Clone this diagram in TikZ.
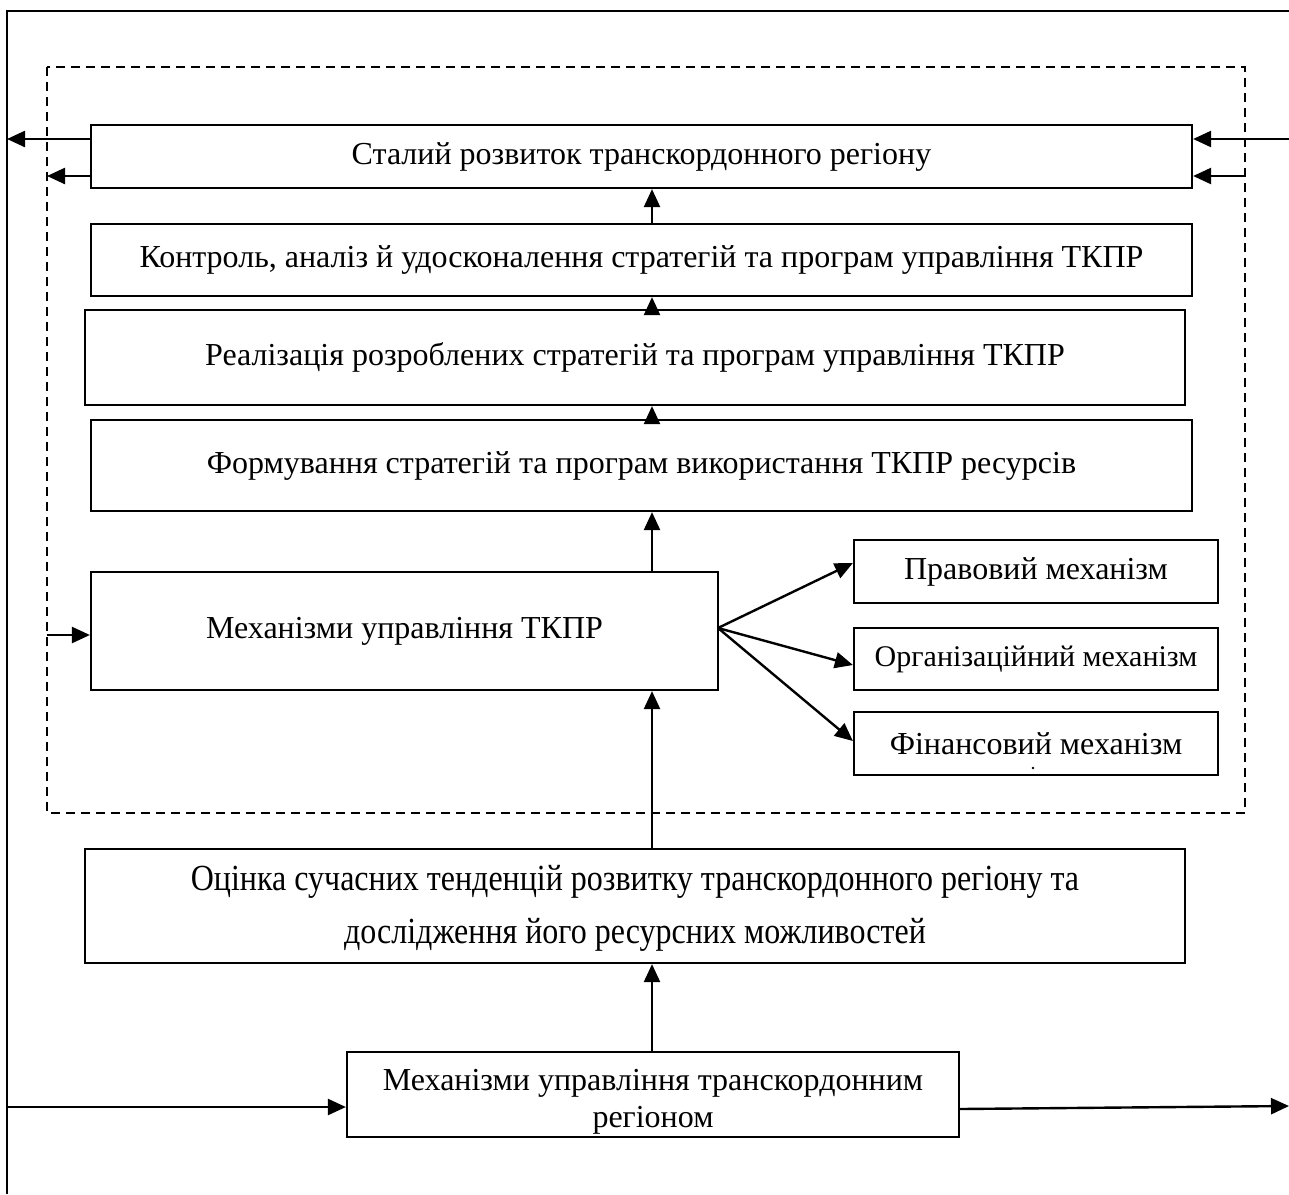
\documentclass[tikz,border=0pt]{standalone}
\usepackage{fontspec}
\setmainfont{Liberation Serif}
\usetikzlibrary{arrows.meta,calc}
\tikzset{
  box/.style={draw, line width=2.2pt, inner sep=0pt, align=center,
    font=\fontsize{32}{40}\selectfont},
  txt/.style={inner sep=0pt, align=center, font=\fontsize{32}{37}\selectfont},
  arr/.style={line width=2.4pt, -{Triangle[length=18pt,width=16pt]}},
  frame/.style={line width=2.4pt},
  zone/.style={line width=1.7pt, dash pattern=on 9pt off 6pt}
}
\newcommand{\tallline}[1]{\scalebox{1}[1.15]{#1}}
\begin{document}
\begin{tikzpicture}[x=1pt,y=-1pt]
\useasboundingbox (0,0) rectangle (1289,1194);
% outer frame (top and left sides)
\draw[frame] (7,1194) -- (7,11) -- (1289,11);
% dashed zone of management of transborder regional resources
\draw[zone] (47,67) rectangle (1245,813);

% stages
\node[box, minimum width=1101pt, minimum height=63pt] (b1) at (641.5,156.5)
  {Сталий розвиток транскордонного регіону};
\node[box, minimum width=1101pt, minimum height=72pt] (b2) at (641.5,260)
  {Контроль, аналіз й удосконалення стратегій та програм управління ТКПР};
\node[box, minimum width=1100pt, minimum height=95pt] (b3) at (635,357.5)
  {Реалізація розроблених стратегій та програм управління ТКПР};
\node[box, minimum width=1101pt, minimum height=91pt] (b4) at (641.5,465.5)
  {Формування стратегій та програм використання ТКПР ресурсів};
\node[box, minimum width=627pt, minimum height=118pt] (b5) at (404.5,631)
  {Механізми управління ТКПР};
\node[box, minimum width=364pt, minimum height=63pt] (b6) at (1036,571.5)
  {Правовий механізм};
\node[box, minimum width=364pt, minimum height=62pt,
  font=\fontsize{30}{36}\selectfont] (b7) at (1036,659)
  {Організаційний механізм};
\node[box, minimum width=364pt, minimum height=63pt] (b8) at (1036,743.5)
  {Фінансовий механізм};
\fill (1033,768) circle (1.3pt);
\node[box, minimum width=1100pt, minimum height=114pt] (b9) at (635,906) {};
\node[txt, font=\fontsize{32}{53}\selectfont] (b9t) at ($(b9)+(0,2)$)
  {\tallline{Оцінка сучасних тенденцій розвитку транскордонного регіону та}\\
   \tallline{дослідження його ресурсних можливостей}};
\node[box, minimum width=612pt, minimum height=85pt] (b10) at (653,1094.5) {};
\node[txt] (b10t) at ($(b10)+(0,7)$)
  {Механізми управління транскордонним\\ регіоном};

% main vertical axis
\coordinate (ax) at (652,0);
\draw[arr] (b10.north -| ax) -- (b9.south -| ax);
\draw[arr] (b9.north -| ax) -- (b5.south -| ax);
\draw[arr] (b5.north -| ax) -- (b4.south -| ax);
\draw[arr] (b4.north -| ax) -- (b3.south -| ax);
\draw[arr] (b3.north -| ax) -- (b2.south -| ax);
\draw[arr] (b2.north -| ax) -- (b1.south -| ax);

% mechanisms branch
\coordinate (fan) at (718,628);
\coordinate (t6) at (854,563);
\coordinate (t7) at (854,665);
\coordinate (t8) at (854,741);
\draw[arr] (fan) -- (b6.west |- t6);
\draw[arr] (fan) -- (b7.west |- t7);
\draw[arr] (fan) -- (b8.west |- t8);

% side links of the result block
\coordinate (oL) at (7,139);
\coordinate (dL) at (47,176);
\coordinate (oR) at (1289,139);
\coordinate (dR) at (1245,176);
\draw[arr] (b1.west |- oL) -- (oL);
\draw[arr] (b1.west |- dL) -- (dL);
\draw[arr] (oR) -- (b1.east |- oR);
\draw[arr] (dR) -- (b1.east |- dR);

% input into the mechanisms block
\coordinate (dM) at (47,635);
\draw[arr] (dM) -- (b5.west |- dM);

% input and output of the regional management block
\coordinate (iB) at (7,1107);
\coordinate (oB) at (1289,1106);
\draw[arr] (iB) -- (b10.west |- iB);
\draw[arr] (b10.east |- 0,1109) -- (oB);
\end{tikzpicture}
\end{document}
